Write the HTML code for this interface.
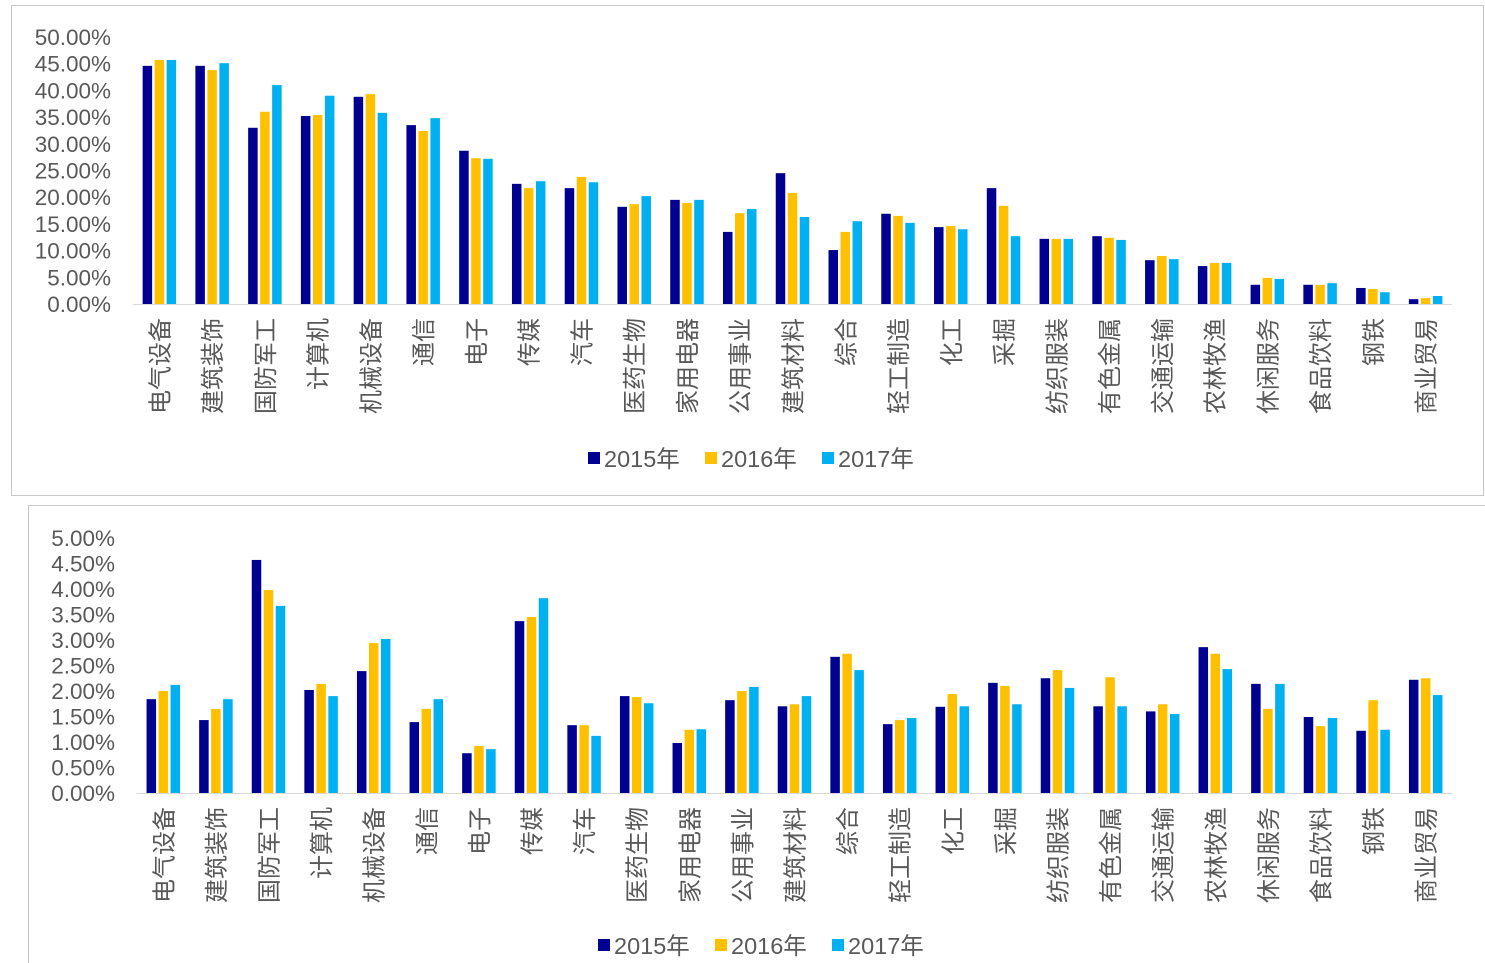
<!DOCTYPE html>
<html><head><meta charset="utf-8">
<style>
html,body{margin:0;padding:0;background:#fff;}
body{width:1485px;height:963px;position:relative;overflow:hidden;font-family:"Liberation Sans","Noto Sans CJK SC",sans-serif;}
svg{position:absolute;left:0;top:0;}
</style></head>
<body>
<svg id="chart" width="1485" height="963" xmlns="http://www.w3.org/2000/svg"></svg>
<script>
const categories = ["电气设备","建筑装饰","国防军工","计算机","机械设备","通信","电子","传媒","汽车","医药生物","家用电器","公用事业","建筑材料","综合","轻工制造","化工","采掘","纺织服装","有色金属","交通运输","农林牧渔","休闲服务","食品饮料","钢铁","商业贸易"];
const seriesNames = ["2015年","2016年","2017年"];
const top2015 = [44.6,44.6,33.0,35.2,38.8,33.5,28.7,22.5,21.7,18.2,19.5,13.5,24.5,10.1,16.9,14.4,21.7,12.2,12.7,8.2,7.1,3.6,3.6,3.0,0.9];
const top2016 = [45.7,43.8,36.0,35.4,39.3,32.4,27.3,21.7,23.8,18.7,18.9,17.0,20.8,13.5,16.5,14.6,18.4,12.2,12.4,9.0,7.7,4.9,3.6,2.8,1.1];
const top2017 = [45.7,45.1,41.0,39.0,35.8,34.8,27.2,23.0,22.8,20.2,19.5,17.8,16.3,15.5,15.2,14.0,12.7,12.2,12.0,8.4,7.7,4.7,3.9,2.2,1.5];
const bot2015 = [1.84,1.43,4.57,2.02,2.39,1.39,0.78,3.37,1.33,1.90,0.98,1.82,1.70,2.67,1.35,1.69,2.16,2.25,1.70,1.60,2.86,2.14,1.49,1.22,2.22];
const bot2016 = [2.00,1.65,3.98,2.14,2.94,1.65,0.92,3.45,1.33,1.88,1.24,2.00,1.74,2.73,1.43,1.94,2.10,2.41,2.27,1.74,2.73,1.65,1.31,1.82,2.25];
const bot2017 = [2.12,1.84,3.67,1.90,3.02,1.84,0.86,3.82,1.12,1.76,1.25,2.08,1.90,2.41,1.47,1.70,1.74,2.06,1.70,1.55,2.43,2.14,1.47,1.24,1.92];
const topTicks = ["0.00%","5.00%","10.00%","15.00%","20.00%","25.00%","30.00%","35.00%","40.00%","45.00%","50.00%"];
const topTickValues = [0,5,10,15,20,25,30,35,40,45,50];
const botTicks = ["0.00%","0.50%","1.00%","1.50%","2.00%","2.50%","3.00%","3.50%","4.00%","4.50%","5.00%"];
const botTickValues = [0,0.5,1,1.5,2,2.5,3,3.5,4,4.5,5];
const colors = ["#000090","#FFC000","#00B0F0"];

const NS="http://www.w3.org/2000/svg";
const svg=document.getElementById('chart');
function mk(tag,attrs,parent){const e=document.createElementNS(NS,tag);for(const k in attrs)e.setAttribute(k,attrs[k]);(parent||svg).appendChild(e);return e;}

function drawPanel(cfg){
  const g=mk('g',{});
  
  
  const frame=mk('rect',cfg.frame,g);
  
  
  const yScale=v=>cfg.y0-(v-cfg.vmin)/(cfg.vmax-cfg.vmin)*(cfg.y0-cfg.y1);
  const band=(cfg.x1-cfg.x0)/categories.length;
  const xCenter=i=>cfg.x0+band*(i+0.5);
  cfg.tickValues.forEach((tv,i)=>{
    const t=mk('text',{x:cfg.tickX,y:yScale(tv)+8,'text-anchor':'end','font-size':22.5,fill:'#595959'},g);
    t.textContent=cfg.ticks[i];
    
    
  });
  const ax=mk('line',{x1:cfg.x0,x2:cfg.x1,y1:cfg.y0+0.5,y2:cfg.y0+0.5,stroke:'#d9d9d9','stroke-width':1},g);
  
  
  const bw=9.5,pitch=12;
  cfg.series.forEach((arr,s)=>{
    arr.forEach((v,i)=>{
      const x=xCenter(i)+(s-1)*pitch-bw/2;
      const y=yScale(v);
      const r=mk('rect',{x:x,y:y,width:bw,height:cfg.y0-y,fill:colors[s]},g);
      
      
    });
  });
  categories.forEach((c,i)=>{
    const cx=xCenter(i)+9, cy=cfg.y0+14;
    const t=mk('text',{x:cx,y:cy,transform:`rotate(-90 ${cx} ${cy})`,'text-anchor':'end','font-size':24,fill:'#595959'},g);
    t.textContent=c;
    
    
  });
  seriesNames.forEach((n,s)=>{
    const lx=cfg.legendX+s*117;
    const sq=mk('rect',{x:lx,y:cfg.legendY-6,width:12,height:12,fill:colors[s]},g);
    
    
    const t=mk('text',{x:lx+16,y:cfg.legendY+9,'font-size':23.5,fill:'#595959'},g);
    t.textContent=n;
    
    
  });
}

drawPanel({name:'top-chart',frame:{x:11.5,y:5.5,width:1472,height:490,fill:'none',stroke:'#c8c8c8','stroke-width':1},
  x0:133,x1:1452,y0:304,y1:37,vmin:0,vmax:50,ticks:topTicks,tickValues:topTickValues,tickX:111,
  series:[top2015,top2016,top2017],legendX:588,legendY:458});
drawPanel({name:'bottom-chart',frame:{x:28.5,y:505.5,width:1470,height:470,fill:'none',stroke:'#c8c8c8','stroke-width':1},
  x0:137,x1:1452,y0:793,y1:538,vmin:0,vmax:5,ticks:botTicks,tickValues:botTickValues,tickX:115,
  series:[bot2015,bot2016,bot2017],legendX:598,legendY:945});
</script>
</body></html>
